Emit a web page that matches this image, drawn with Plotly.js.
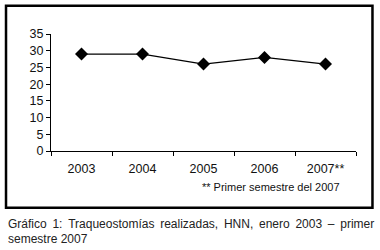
<!DOCTYPE html>
<html>
<head>
<meta charset="utf-8">
<script src="https://cdn.plot.ly/plotly-3.0.1.min.js"></script>
<style>html,body{margin:0;padding:0;background:#fff;}#chart{width:380px;height:250px;}</style>
</head>
<body>
<div id="chart"></div>
<script>
const years = ["2003", "2004", "2005", "2006", "2007**"];
const traqueostomias = [29, 29, 26, 28, 26];
const yTicks = [0, 5, 10, 15, 20, 25, 30, 35];
const footnote = "** Primer semestre del 2007";
const captionLine1 = "Gráfico 1: Traqueostomías realizadas, HNN, enero 2003 – primer";
const captionLine2 = "semestre 2007";

const font = "Liberation Sans, Arial, sans-serif";
// widen inter-word gaps a little to imitate the justified caption line
const justified = captionLine1.split(" ").join(" \u2009");

const trace = {
  x: years, y: traqueostomias, type: "scatter", mode: "lines+markers",
  line: {color: "#000", width: 1.3},
  marker: {symbol: "diamond", size: 10, color: "#000"},
  hoverinfo: "none"
};
const layout = {
  width: 380, height: 250,
  margin: {l: 51, r: 24, t: 34, b: 99},
  paper_bgcolor: "#fff", plot_bgcolor: "#fff",
  showlegend: false,
  font: {family: font, size: 12, color: "#111"},
  xaxis: {
    type: "category", range: [-0.5, 4.5], showgrid: false, zeroline: false,
    showline: true, linecolor: "#000", linewidth: 1,
    ticks: "outside", tickson: "boundaries", ticklen: 4, tickcolor: "#000",
    ticklabelstandoff: 6,
    tickfont: {family: font, size: 12.5, color: "#111"}
  },
  yaxis: {
    range: [0, 35], tickvals: yTicks, showgrid: false, zeroline: false,
    showline: true, linecolor: "#000", linewidth: 1,
    ticks: "outside", ticklen: 4, tickcolor: "#000",
    tickfont: {family: font, size: 12.5, color: "#111"}
  },
  shapes: [{
    type: "rect", xref: "paper", yref: "paper",
    x0: -0.1475, x1: 1.054, y0: -0.484, y1: 1.2425,
    line: {color: "#000", width: 2.5}
  }],
  annotations: [
    {text: footnote, xref: "paper", yref: "paper", x: 0.955, y: -0.304,
     xanchor: "right", yanchor: "middle", showarrow: false,
     font: {family: font, size: 11, color: "#111"}},
    {text: justified, xref: "paper", yref: "paper", x: -0.147, y: -0.6255,
     xanchor: "left", yanchor: "middle", showarrow: false,
     font: {family: font, size: 12, color: "#222"}},
    {text: captionLine2, xref: "paper", yref: "paper", x: -0.147, y: -0.754,
     xanchor: "left", yanchor: "middle", showarrow: false,
     font: {family: font, size: 12, color: "#222"}}
  ]
};
Plotly.newPlot("chart", [trace], layout, {staticPlot: true, displayModeBar: false});
</script>
</body>
</html>
